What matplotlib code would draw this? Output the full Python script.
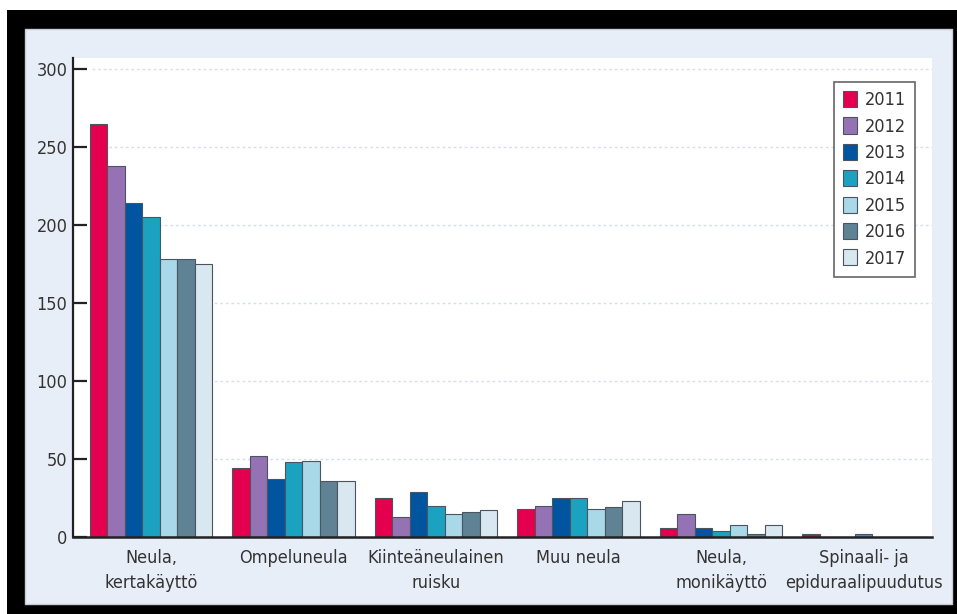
import matplotlib.pyplot as plt
import matplotlib.patches as mpatches
import numpy as np

# data
categories = ['Neula,\nkertakäyttö', 'Ompeluneula', 'Kiinteäneulainen\nruisku',
              'Muu neula', 'Neula,\nmonikäyttö', 'Spinaali- ja\nepiduraalipuudutus']
years = ['2011', '2012', '2013', '2014', '2015', '2016', '2017']
v2011 = [265, 44, 25, 18, 6, 2]
v2012 = [238, 52, 13, 20, 15, 0]
v2013 = [214, 37, 29, 25, 6, 0]
v2014 = [205, 48, 20, 25, 4, 2]
v2015 = [178, 49, 15, 18, 8, 0]
v2016 = [178, 36, 16, 19, 2, 0]
v2017 = [175, 36, 17, 23, 8, 0]
yticks = [0, 50, 100, 150, 200, 250, 300]

series = [v2011, v2012, v2013, v2014, v2015, v2016, v2017]
colors = ['#e4004f', '#9572b4', '#0054a0', '#1ba2c1', '#a9d8e8', '#5f8394', '#d9e7f0']

plt.rcParams['font.family'] = ['DejaVu Sans']
plt.rcParams['font.stretch'] = 'condensed'
txt = '#333333'

W, H = 957, 614
fig = plt.figure(figsize=(W / 100, H / 100), dpi=100)
fig.patch.set_facecolor('white')

def px(x0, y0, x1, y1):
    # pixel box (top-left origin) -> figure fraction rect
    return [x0 / W, 1 - y1 / H, (x1 - x0) / W, (y1 - y0) / H]

# black frame and light-blue panel
r = px(7, 10, 957, 614)
fig.patches.append(mpatches.Rectangle((r[0], r[1]), r[2], r[3], transform=fig.transFigure,
                                      facecolor='black', edgecolor='none', zorder=-3))
r = px(25, 29, 952, 604)
fig.patches.append(mpatches.Rectangle((r[0], r[1]), r[2], r[3], transform=fig.transFigure,
                                      facecolor='#e8eef8', edgecolor='#c9ced6', lw=1, zorder=-2))

ax = fig.add_axes(px(73, 58, 932, 537))
ax.set_facecolor('white')

x = np.arange(len(categories))
w = 0.1228
for i, vals in enumerate(series):
    ax.bar(x + (i - 3) * w, vals, w, color=colors[i], edgecolor='#4a5560',
           linewidth=0.8, label=years[i], zorder=3)

ax.set_xlim(-0.547, 5.48)
ax.set_ylim(0, 307)

# dotted grid lines
for t in yticks[1:]:
    ax.plot([-0.414, 5.48], [t, t], ls=(0, (2, 2)), color='#d3e0f0', lw=1, zorder=1)

ax.set_yticks(yticks)
ax.set_yticklabels([str(t) for t in yticks], fontsize=13, color=txt)
ax.tick_params(axis='y', direction='in', length=10, width=1.6, color='#222222', pad=4)
ax.set_xticks([])
for s in ['top', 'right']:
    ax.spines[s].set_visible(False)
ax.spines['left'].set_linewidth(1.6)
ax.spines['left'].set_color('#222222')
ax.spines['bottom'].set_linewidth(1.8)
ax.spines['bottom'].set_color('#222222')
ax.spines['bottom'].set_zorder(4)

for xi, c in zip(x, categories):
    ax.text(xi, -8, c, ha='center', va='top', fontsize=13, color=txt,
            linespacing=1.45, clip_on=False)

leg = ax.legend(loc='upper right', bbox_to_anchor=(0.98, 0.95), fontsize=13,
                handlelength=0.8, handleheight=1.0, handletextpad=0.4,
                labelspacing=0.45, borderpad=0.5, borderaxespad=0, fancybox=False,
                edgecolor='#666666', framealpha=1)
leg.get_frame().set_linewidth(1.2)
for t in leg.get_texts():
    t.set_color(txt)

fig.savefig('out.png', dpi=100)
